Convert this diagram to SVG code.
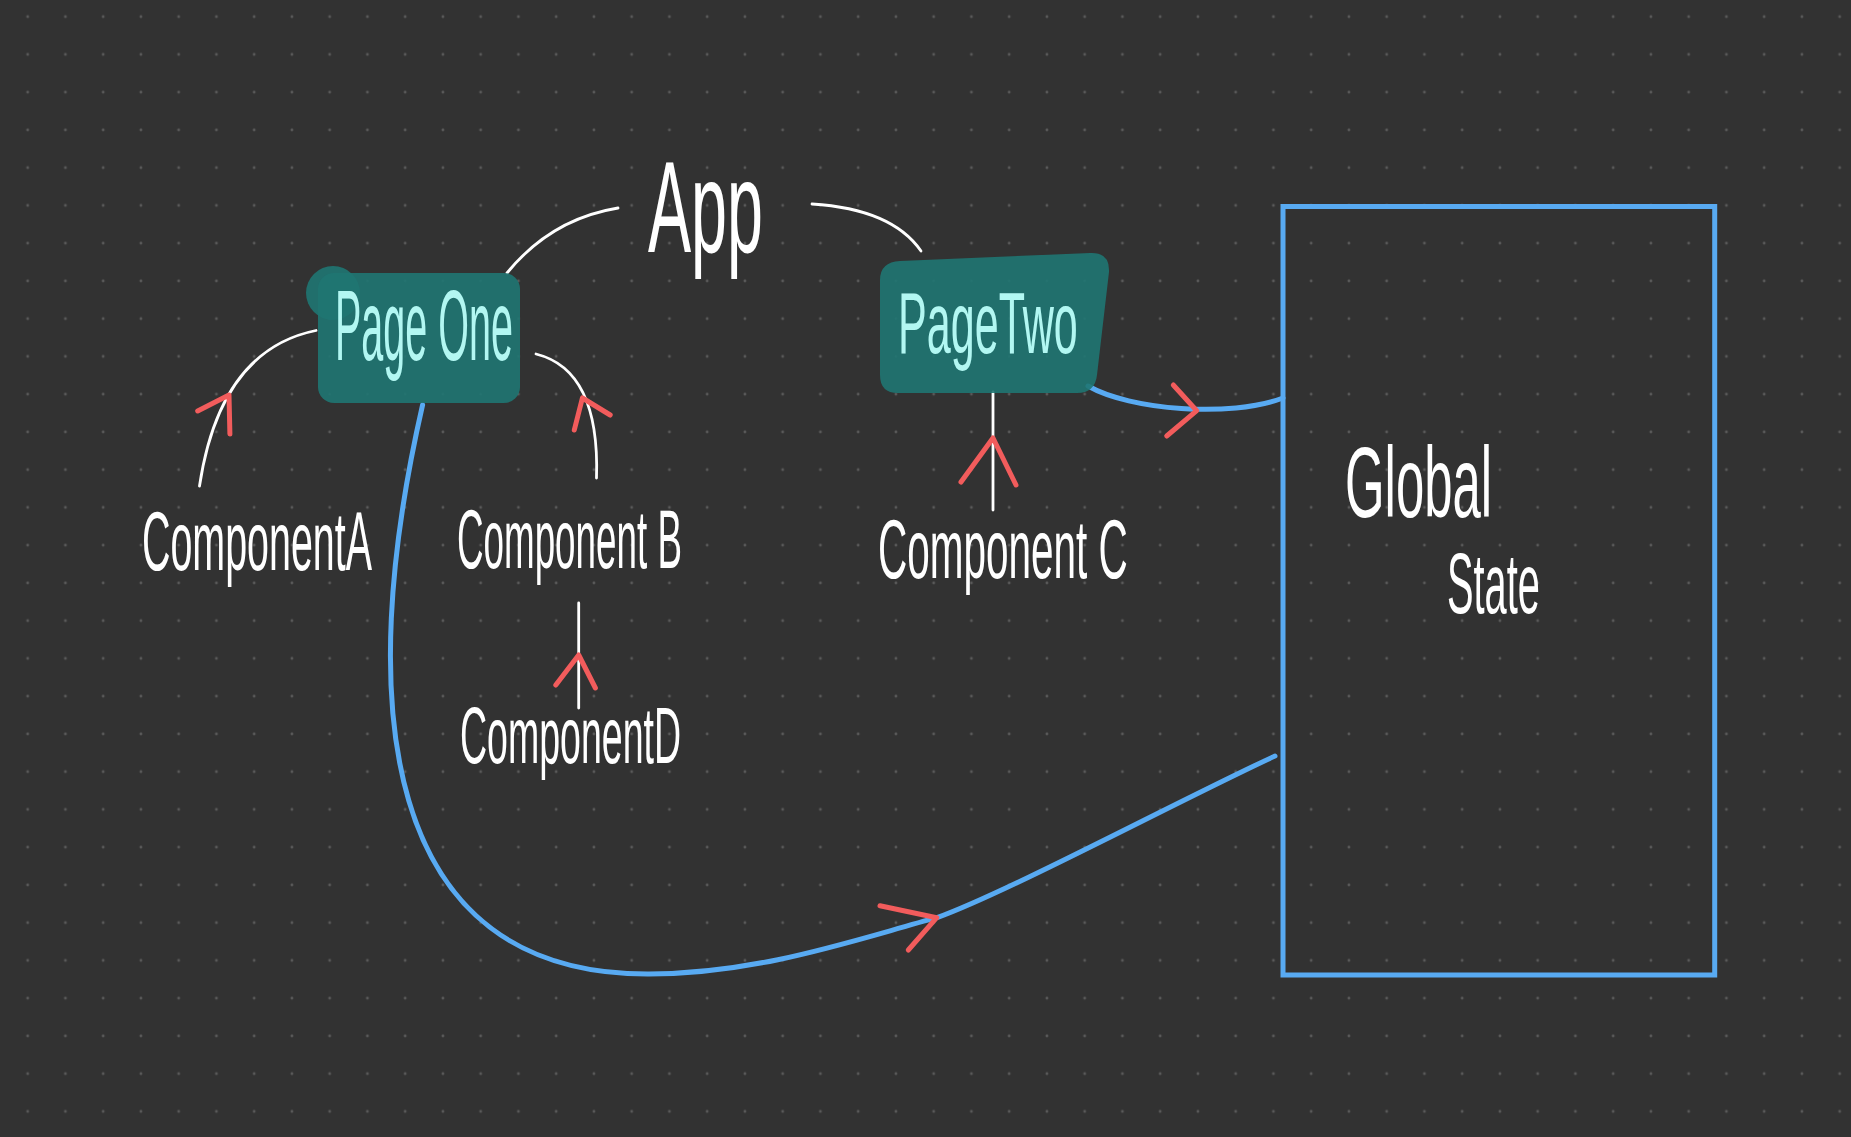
<svg xmlns="http://www.w3.org/2000/svg" width="1851" height="1137" viewBox="0 0 1851 1137">
  <defs>
    <pattern id="dots" patternUnits="userSpaceOnUse" x="8.8" y="-2.2" width="37.75" height="37.75">
      <circle cx="18.875" cy="18.875" r="1.4" fill="#5a5a5a"/>
    </pattern>
    <style>
      .hand { font-family: "Liberation Sans", "DejaVu Sans", sans-serif; fill: #ffffff; }
      .page { font-family: "Liberation Sans", "DejaVu Sans", sans-serif; fill: #b2f7f2; }
      .box { fill: #1f7572; fill-opacity: 0.9; }
      .wire { fill: none; stroke: #ffffff; stroke-width: 2.8; stroke-linecap: round; }
      .head { fill: none; stroke: #f25c5c; stroke-width: 5; stroke-linecap: round; stroke-linejoin: round; }
      .flow { fill: none; stroke: #58aaf2; stroke-width: 5; stroke-linecap: round; }
    </style>
  </defs>
  <rect x="0" y="0" width="1851" height="1137" fill="#323232"/>
  <rect x="0" y="0" width="1851" height="1137" fill="url(#dots)"/>

  <g id="connectors">
    <path class="wire" d="M618,208 Q551,219 507,273"/>
    <path class="wire" d="M812,204 Q892,209 921,251"/>
    <path class="wire" d="M199.5,486 Q220,350 316,330.5"/>
    <polyline class="head" points="197.7,411 229,395 229.9,434"/>
    <path class="wire" d="M596.5,478 Q600,370 536,354"/>
    <polyline class="head" points="610.2,415 582.4,398 574.3,430"/>
    <line class="wire" x1="993" y1="392" x2="993" y2="510"/>
    <polyline class="head" points="961,482 993,438 1016,485"/>
    <line class="wire" x1="578.7" y1="603" x2="578.7" y2="708"/>
    <polyline class="head" points="555.8,685 578.7,655 595.4,688"/>
    <path class="flow" d="M1088,386 C1130,410 1230,418 1283,398"/>
    <polyline class="head" points="1173.3,385 1196.7,410.7 1166.7,436"/>
    <path class="flow" d="M422.6,404.9 C355,700 377.8,975 649,974 C760,974 860,938 937,917.7 C1010,891 1180,800 1275,756"/>
    <polyline class="head" points="880,905.7 936.7,917.7 908.3,950"/>
  </g>

  <g id="app">
    <text class="hand" transform="translate(648,252) scale(0.497,1)" font-size="130">App</text>
  </g>

  <g id="page-one">
    <circle class="box" cx="333" cy="293" r="27"/>
    <rect class="box" x="318" y="273" width="202" height="130" rx="16"/>
    <text class="page" transform="translate(335,360) scale(0.395,1)" font-size="100">Page One</text>
  </g>

  <g id="page-two">
    <path class="box" d="M900,261 L1090,253 Q1110,252 1109,272 L1097,375 Q1095,393 1077,393 L898,393 Q880,393 880,375 L880,280 Q880,262 900,261 Z"/>
    <text class="page" transform="translate(898,353) scale(0.49,1)" font-size="88">PageTwo</text>
  </g>

  <g id="component-a">
    <text class="hand" transform="translate(142,570) scale(0.469,1)" font-size="84">ComponentA</text>
  </g>
  <g id="component-b">
    <text class="hand" transform="translate(457,568) scale(0.438,1)" font-size="84">Component B</text>
  </g>
  <g id="component-c">
    <text class="hand" transform="translate(878,578) scale(0.482,1)" font-size="84">Component C</text>
  </g>
  <g id="component-d">
    <text class="hand" transform="translate(460,763) scale(0.469,1)" font-size="80">ComponentD</text>
  </g>

  <g id="global-state">
    <rect x="1283" y="206.5" width="431.7" height="768.5" fill="none" stroke="#58aaf2" stroke-width="5"/>
    <text class="hand" transform="translate(1345,517) scale(0.509,1)" font-size="100">Global</text>
    <text class="hand" transform="translate(1447,613) scale(0.463,1)" font-size="86">State</text>
  </g>
</svg>
